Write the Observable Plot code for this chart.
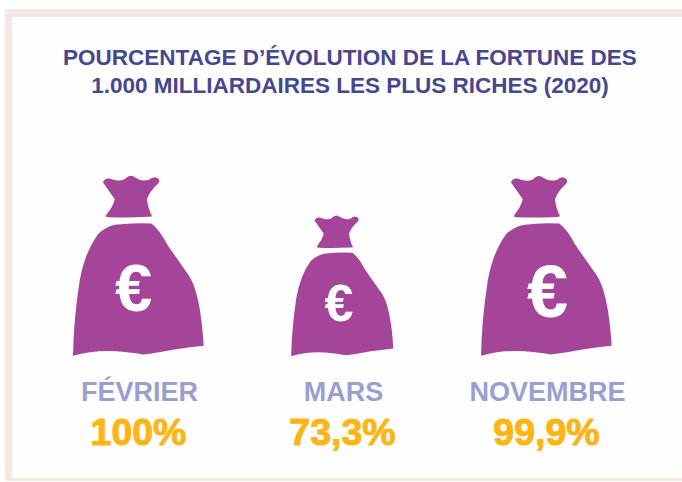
<!DOCTYPE html>
<html lang="fr">
<head>
<meta charset="utf-8">
<script src="https://cdn.jsdelivr.net/npm/d3@7"></script>
<script src="https://cdn.jsdelivr.net/npm/@observablehq/plot@0.6"></script>
<style>
  html, body { margin: 0; padding: 0; background: #fff; overflow: hidden; }
  #page { position: relative; width: 682px; height: 482px; overflow: hidden; }
  #frame { position: absolute; left: 5px; top: 9px; width: 700px; height: 472px; box-sizing: border-box;
           border: 8px solid #f5e9e4; border-left-width: 7px; border-bottom-width: 3px; background: #fefefe; }
  h1 { position: absolute; left: 0; top: 44px; width: 700px; margin: 0; text-align: center;
       font: bold 22.5px/28px "Liberation Sans", sans-serif; color: #45478f; }
  #chart { position: absolute; left: 0; top: 110px; }
</style>
</head>
<body>
<div id="page">
  <div id="frame"></div>
  <h1>POURCENTAGE D’ÉVOLUTION DE LA FORTUNE DES<br>1.000 MILLIARDAIRES LES PLUS RICHES (2020)</h1>
  <div id="chart"></div>
</div>
<script>
const months = ["FÉVRIER", "MARS", "NOVEMBRE"];
const values = [100, 73.3, 99.9];
const valueLabels = ["100%", "73,3%", "99,9%"];

const rows = months.map((month, i) => ({month, value: values[i], label: valueLabels[i]}));

// money-bag outline, origin at the bottom centre, unit = bag height
const U = (x, y) => [(x - 235) / 545, (y - 575) / 545];
const bag = {
  draw(c, size) {
    const r = Math.sqrt(size / Math.PI);
    const M = (x, y) => { const p = U(x, y); c.moveTo(p[0] * r, p[1] * r); };
    const Q = (a, b, x, y) => { const p = U(a, b), q = U(x, y); c.quadraticCurveTo(p[0] * r, p[1] * r, q[0] * r, q[1] * r); };
    // knot
    M(130, 50);
    Q(134, 36, 150, 38); Q(160, 42, 172, 44); Q(192, 46, 200, 36); Q(214, 24, 228, 36);
    Q(245, 48, 268, 42); Q(280, 30, 292, 36); Q(304, 42, 295, 54);
    Q(270, 76, 262, 100); Q(266, 130, 276, 148); Q(278, 154, 268, 153);
    Q(205, 156, 146, 154); Q(134, 154, 142, 144); Q(160, 122, 165, 100); Q(148, 75, 130, 50);
    c.closePath();
    // body
    M(165, 177);
    Q(220, 170, 275, 173); Q(300, 192, 322, 235); Q(353, 280, 385, 325);
    Q(422, 375, 432, 540);
    Q(385, 545, 340, 552); Q(290, 562, 250, 566); Q(205, 558, 170, 556); Q(100, 552, 40, 570);
    Q(42, 460, 60, 345); Q(75, 260, 115, 205); Q(135, 185, 165, 177);
    c.closePath();
  }
};

const H = 372;
const base = 247;
const labelFont = "Liberation Sans, sans-serif";
const euro = (i, y, dx, fontSize) => Plot.text([rows[i]], {x: "month", y, dx, text: () => "€", fill: "#fff",
  fontWeight: "bold", fontFamily: labelFont, fontSize});

const chart = Plot.plot({
  width: 682, height: H,
  marginLeft: 0, marginRight: 0, marginTop: 0, marginBottom: 0,
  x: {type: "point", domain: months, range: [138, 547], padding: 0, axis: null},
  y: {type: "linear", domain: [base - H, base], range: [H, 0], axis: null},
  r: {type: "linear", domain: [73.3, 100], range: [142, 181.7]},
  style: {background: "transparent"},
  marks: [
    Plot.dot(rows, {x: "month", y: 0, dx: -1.5, r: "value", symbol: bag, fill: "#a5459a", stroke: "none"}),
    euro(0, 68, -6, 67),
    euro(1, 53, -4.5, 52),
    euro(2, 64, 0, 74),
    Plot.text(rows, {x: "month", y: 0, dy: 35, text: "month", fill: "#9a9fd0", fontWeight: "bold",
      fontFamily: labelFont, fontSize: 27}),
    Plot.text(rows, {x: "month", y: 0, dx: -1, dy: 75, text: "label", fill: "#fdb515", stroke: "#fdb515", strokeWidth: 1,
      fontWeight: "bold", fontFamily: labelFont, fontSize: 37.5})
  ]
});
document.getElementById("chart").appendChild(chart);
</script>
</body>
</html>
